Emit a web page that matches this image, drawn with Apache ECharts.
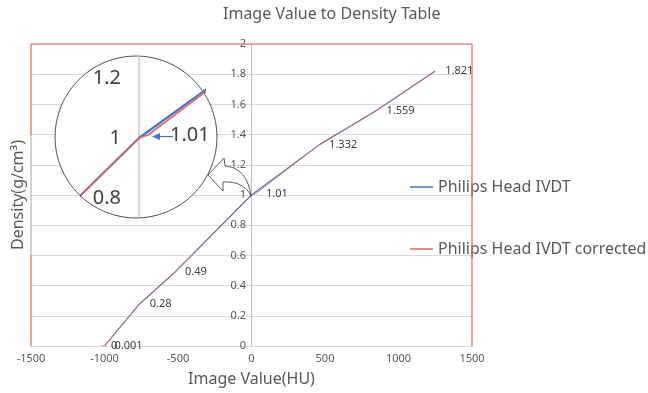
<!DOCTYPE html>
<html>
<head>
<meta charset="utf-8">
<script src="https://cdn.jsdelivr.net/npm/echarts@6/dist/echarts.min.js"></script>
<style>html,body{margin:0;padding:0;background:#fff}#c{width:648px;height:393px}</style>
</head>
<body>
<div id="c"></div>
<script>
// ---- data ----
const titleText = 'Image Value to Density Table';
const xName = 'Image Value(HU)';
const yName = 'Density(g/cm³)';
const seriesNames = ['Philips Head IVDT', 'Philips Head IVDT corrected'];
const blueHU = [-1000, -760, -520, 0, 460, 850, 1250];
const blueDensity = [0.001, 0.28, 0.49, 1.0, 1.332, 1.559, 1.821];
const blueLabelShown = [true, true, true, false, true, true, true];
const redHU = [-1024, -1000, -760, -520, 0, 30, 460, 850, 1250];
const redDensity = [0, 0.001, 0.28, 0.49, 1.0, 1.01, 1.332, 1.559, 1.821];
const redLabelShown = [true, false, false, false, false, true, false, false, false];
const redInsetLabelShown = [false, false, false, false, false, true, false, false, false];
const xMin = -1500, xMax = 1500, xStep = 500;
const yMin = 0, yMax = 2, yStep = 0.2;
const insetXRange = [-190, 217];
const insetYRange = [0.737, 1.273];
const insetTicks = [0.8, 1, 1.2];

const BLUE = '#4472c4', RED = '#e06666', TXT = '#595959';
const FONT = '"Noto Sans", sans-serif';

function mk(xs, ys, shown) {
  return xs.map((x, i) => ({ value: [x, ys[i]], label: { show: shown[i] } }));
}
const fmt = v => String(+(+v).toFixed(3));

// quadratic bezier sampler for the decorative curved arrow outline
function quad(p0, c, p1, n) {
  const out = [];
  for (let i = 0; i <= n; i++) {
    const t = i / n, u = 1 - t;
    out.push([u * u * p0[0] + 2 * u * t * c[0] + t * t * p1[0], u * u * p0[1] + 2 * u * t * c[1] + t * t * p1[1]]);
  }
  return out;
}
const arrowPts = [].concat(
  quad([251, 196], [247, 168], [225, 166], 16),
  [[224, 158], [208, 175], [223, 191]],
  quad([223, 182], [244, 181], [251, 196], 16)
);

const chart = echarts.init(document.getElementById('c'), null, { renderer: 'canvas' });
chart.setOption({
  animation: false,
  textStyle: { fontFamily: FONT },
  title: {
    text: titleText, left: 223, top: 6, padding: 0,
    textStyle: { fontSize: 16, fontWeight: 'normal', color: TXT, fontFamily: FONT }
  },
  legend: {
    orient: 'vertical', left: 410, top: 179, padding: 0, itemGap: 46,
    itemWidth: 23, itemHeight: 1.5, icon: 'rect', selectedMode: false,
    data: seriesNames,
    textStyle: { fontSize: 16, color: TXT, fontFamily: FONT }
  },
  grid: [
    { left: 31, right: 176, top: 44, bottom: 47, show: false, containLabel: false, outerBoundsMode: 'none' },
    { left: 82, top: 56, width: 122, height: 161, show: false, containLabel: false, outerBoundsMode: 'none' }
  ],
  xAxis: [
    {
      gridIndex: 0, type: 'value', min: xMin, max: xMax, interval: xStep,
      name: xName, nameLocation: 'middle', nameGap: 25,
      nameTextStyle: { fontSize: 16, color: TXT, fontFamily: FONT },
      axisLine: { show: true, onZero: false, lineStyle: { color: '#d9d9d9' } },
      axisTick: { show: false },
      axisLabel: { fontSize: 11, color: TXT, margin: 7, fontFamily: FONT, formatter: v => String(v) },
      splitLine: { show: false }
    },
    {
      gridIndex: 1, type: 'value', min: insetXRange[0], max: insetXRange[1],
      axisLine: { show: false, onZero: false }, axisTick: { show: false },
      axisLabel: { show: false }, splitLine: { show: false }
    }
  ],
  yAxis: [
    {
      gridIndex: 0, type: 'value', min: yMin, max: yMax, interval: yStep,
      position: 'left', offset: -220,
      name: yName, nameLocation: 'middle', nameGap: 225,
      nameTextStyle: { fontSize: 16, color: TXT, fontFamily: FONT },
      axisLine: { show: true, onZero: false, lineStyle: { color: '#bfbfbf' } },
      axisTick: { show: false },
      axisLabel: { fontSize: 11, color: TXT, margin: 5, formatter: v => fmt(v), fontFamily: FONT },
      splitLine: { show: true, lineStyle: { color: '#d9d9d9' } }
    },
    {
      gridIndex: 1, type: 'value', min: insetYRange[0], max: insetYRange[1], z: 30,
      position: 'left', offset: -57,
      axisLine: { show: true, onZero: false, lineStyle: { color: '#c8c8c8', width: 1.5 } },
      axisTick: { show: false },
      axisLabel: { customValues: insetTicks, fontSize: 20, color: '#404040', margin: 18, formatter: v => fmt(v), fontFamily: FONT },
      splitLine: { show: false }
    }
  ],
  series: [
    {
      name: seriesNames[0], type: 'line', xAxisIndex: 0, yAxisIndex: 0,
      symbol: 'circle', symbolSize: 0, showSymbol: true, z: 3,
      lineStyle: { color: BLUE, width: 1.2 }, itemStyle: { color: BLUE },
      data: mk(blueHU, blueDensity, blueLabelShown),
      label: { position: 'right', distance: 10, fontSize: 11, color: '#404040', fontFamily: FONT,
               formatter: p => fmt(p.value[1]) }
    },
    {
      name: seriesNames[1], type: 'line', xAxisIndex: 0, yAxisIndex: 0,
      symbol: 'circle', symbolSize: 0, showSymbol: true, z: 4,
      lineStyle: { color: RED, width: 1, opacity: 0.85 }, itemStyle: { color: RED },
      data: mk(redHU, redDensity, redLabelShown),
      label: { position: 'right', distance: 10, fontSize: 11, color: '#404040', fontFamily: FONT,
               formatter: p => fmt(p.value[1]) }
    },
    {
      name: seriesNames[0], type: 'line', xAxisIndex: 1, yAxisIndex: 1,
      symbol: 'none', z: 30, clip: true,
      lineStyle: { color: BLUE, width: 2.2 }, itemStyle: { color: BLUE },
      data: mk(blueHU, blueDensity, blueHU.map(() => false))
    },
    {
      name: seriesNames[1], type: 'line', xAxisIndex: 1, yAxisIndex: 1,
      symbol: 'circle', symbolSize: 0, showSymbol: true, z: 31, clip: true,
      lineStyle: { color: RED, width: 1.6 }, itemStyle: { color: RED },
      data: mk(redHU, redDensity, redInsetLabelShown),
      label: { position: 'right', distance: 22, fontSize: 20, color: '#404040', fontFamily: FONT,
               formatter: p => fmt(p.value[1]) }
    }
  ],
  graphic: [
    { type: 'polyline', z: 5, silent: true,
      shape: { points: [[31, 135], [31, 44], [472, 44], [472, 346]] },
      style: { stroke: '#e06666', lineWidth: 1.2, fill: null } },
    { type: 'line', z: 5, silent: true,
      shape: { x1: 31, y1: 255, x2: 31, y2: 346 },
      style: { stroke: '#e06666', lineWidth: 1.2 } },
    { type: 'line', z: 5, silent: true,
      shape: { x1: 31, y1: 135, x2: 31, y2: 255 },
      style: { stroke: '#a6a6a6', lineWidth: 1 } },
    { type: 'circle', z: 20, silent: true,
      shape: { cx: 136, cy: 137, r: 81 },
      style: { fill: '#ffffff', stroke: '#404040', lineWidth: 0.9 } },
    { type: 'polygon', z: 25, silent: true,
      shape: { points: arrowPts },
      style: { fill: '#ffffff', stroke: '#333333', lineWidth: 0.8 } },
    { type: 'line', z: 35, silent: true,
      shape: { x1: 173, y1: 136.5, x2: 158, y2: 136.5 },
      style: { stroke: BLUE, lineWidth: 1.2 } },
    { type: 'polygon', z: 35, silent: true,
      shape: { points: [[152, 136.5], [160, 133], [160, 140]] },
      style: { fill: BLUE } }
  ]
});
</script>
</body>
</html>
